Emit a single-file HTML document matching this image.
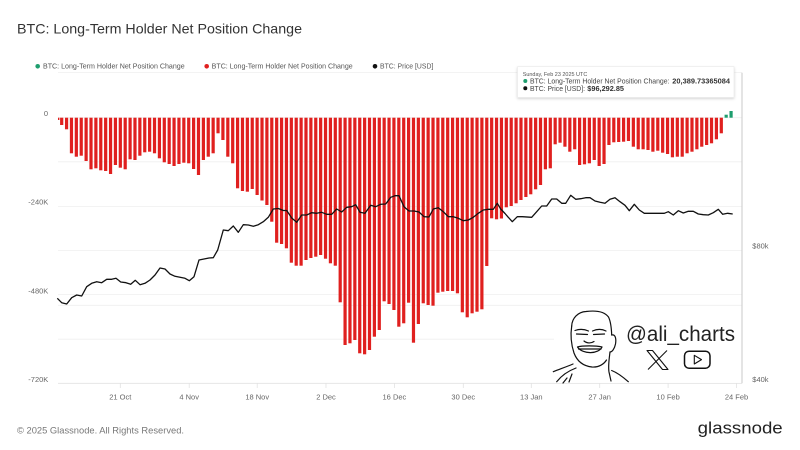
<!DOCTYPE html>
<html><head><meta charset="utf-8"><style>
html,body{margin:0;padding:0;background:#fff;}
svg{display:block;font-family:"Liberation Sans",Arial,sans-serif;}
</style></head><body>
<svg width="800" height="450" viewBox="0 0 800 450" xmlns="http://www.w3.org/2000/svg">
<defs>
<filter id="sh" x="-10%" y="-30%" width="120%" height="180%"><feDropShadow dx="0" dy="1.2" stdDeviation="1.2" flood-color="#000" flood-opacity="0.18"/></filter>
</defs>
<rect width="800" height="450" fill="#fff"/>
<text x="17" y="33.5" font-size="14" fill="#333" textLength="285" lengthAdjust="spacingAndGlyphs">BTC: Long-Term Holder Net Position Change</text>
<!-- legend -->
<circle cx="37.7" cy="66.3" r="2.3" fill="#1e9e6e"/>
<text x="43" y="68.7" font-size="7" fill="#555" textLength="141.7" lengthAdjust="spacingAndGlyphs">BTC: Long-Term Holder Net Position Change</text>
<circle cx="206.7" cy="66.3" r="2.3" fill="#e0201f"/>
<text x="211.7" y="68.7" font-size="7" fill="#555" textLength="141" lengthAdjust="spacingAndGlyphs">BTC: Long-Term Holder Net Position Change</text>
<circle cx="375" cy="66.3" r="2.3" fill="#111"/>
<text x="380" y="68.7" font-size="7" fill="#555" textLength="53.3" lengthAdjust="spacingAndGlyphs">BTC: Price [USD]</text>
<!-- gridlines -->
<g stroke="#efefef" stroke-width="0.8">
<line x1="58" y1="72.5" x2="742" y2="72.5"/>
<line x1="58" y1="117.7" x2="742" y2="117.7"/>
<line x1="58" y1="161.8" x2="742" y2="161.8"/>
<line x1="58" y1="206.5" x2="742" y2="206.5"/>
<line x1="58" y1="250.6" x2="742" y2="250.6"/>
<line x1="58" y1="294.6" x2="742" y2="294.6"/>
<line x1="58" y1="305.3" x2="742" y2="305.3"/>
<line x1="58" y1="339.2" x2="742" y2="339.2"/>
</g>
<line x1="58" y1="383.3" x2="742" y2="383.3" stroke="#e2e2e2" stroke-width="0.8"/>
<g stroke="#e2e2e2" stroke-width="0.8">
<line x1="120.3" y1="383.3" x2="120.3" y2="388"/><line x1="189.2" y1="383.3" x2="189.2" y2="388"/><line x1="257.2" y1="383.3" x2="257.2" y2="388"/><line x1="326" y1="383.3" x2="326" y2="388"/><line x1="394.4" y1="383.3" x2="394.4" y2="388"/><line x1="463.3" y1="383.3" x2="463.3" y2="388"/><line x1="531.3" y1="383.3" x2="531.3" y2="388"/><line x1="599.7" y1="383.3" x2="599.7" y2="388"/><line x1="668.1" y1="383.3" x2="668.1" y2="388"/><line x1="736.5" y1="383.3" x2="736.5" y2="388"/>
</g>
<line x1="742" y1="72.7" x2="742" y2="383.3" stroke="#c4c4c4" stroke-width="0.9"/>
<!-- y labels -->
<g font-size="7.5" fill="#666" text-anchor="end">
<text x="48" y="116">0</text>
<text x="48.3" y="204.7">-240K</text>
<text x="48.3" y="293.4">-480K</text>
<text x="48.3" y="382">-720K</text>
</g>
<g font-size="7.5" fill="#666">
<text x="752.3" y="248.7">$80k</text>
<text x="752.3" y="382">$40k</text>
</g>
<g font-size="7.5" fill="#666" text-anchor="middle">
<text x="120.3" y="399.5">21 Oct</text><text x="189.2" y="399.5">4 Nov</text><text x="257.2" y="399.5">18 Nov</text><text x="326" y="399.5">2 Dec</text><text x="394.4" y="399.5">16 Dec</text><text x="463.3" y="399.5">30 Dec</text><text x="531.3" y="399.5">13 Jan</text><text x="599.7" y="399.5">27 Jan</text><text x="668.1" y="399.5">10 Feb</text><text x="736.5" y="399.5">24 Feb</text>
</g>
<!-- bars -->
<g fill="#e0201f">
<rect x="58" y="117.7" width="1.4" height="2.3"/>
<rect x="60.09" y="117.7" width="3.2" height="7.3"/>
<rect x="64.97" y="117.7" width="3.2" height="11.6"/>
<rect x="69.86" y="117.7" width="3.2" height="35.6"/>
<rect x="74.74" y="117.7" width="3.2" height="39"/>
<rect x="79.63" y="117.7" width="3.2" height="38"/>
<rect x="84.52" y="117.7" width="3.2" height="43.3"/>
<rect x="89.40" y="117.7" width="3.2" height="51.6"/>
<rect x="94.29" y="117.7" width="3.2" height="50.6"/>
<rect x="99.17" y="117.7" width="3.2" height="52.6"/>
<rect x="104.06" y="117.7" width="3.2" height="53.3"/>
<rect x="108.95" y="117.7" width="3.2" height="56.3"/>
<rect x="113.83" y="117.7" width="3.2" height="47.3"/>
<rect x="118.72" y="117.7" width="3.2" height="50"/>
<rect x="123.60" y="117.7" width="3.2" height="51.6"/>
<rect x="128.49" y="117.7" width="3.2" height="41.6"/>
<rect x="133.38" y="117.7" width="3.2" height="42.3"/>
<rect x="138.26" y="117.7" width="3.2" height="38"/>
<rect x="143.15" y="117.7" width="3.2" height="34.6"/>
<rect x="148.03" y="117.7" width="3.2" height="34"/>
<rect x="152.92" y="117.7" width="3.2" height="35.6"/>
<rect x="157.81" y="117.7" width="3.2" height="40.6"/>
<rect x="162.69" y="117.7" width="3.2" height="44.6"/>
<rect x="167.58" y="117.7" width="3.2" height="46.3"/>
<rect x="172.46" y="117.7" width="3.2" height="48.3"/>
<rect x="177.35" y="117.7" width="3.2" height="46.3"/>
<rect x="182.24" y="117.7" width="3.2" height="45"/>
<rect x="187.12" y="117.7" width="3.2" height="45.6"/>
<rect x="192.01" y="117.7" width="3.2" height="51.3"/>
<rect x="196.89" y="117.7" width="3.2" height="57.3"/>
<rect x="201.78" y="117.7" width="3.2" height="42.3"/>
<rect x="206.67" y="117.7" width="3.2" height="39"/>
<rect x="211.55" y="117.7" width="3.2" height="35.6"/>
<rect x="216.44" y="117.7" width="3.2" height="15.6"/>
<rect x="221.32" y="117.7" width="3.2" height="22.3"/>
<rect x="226.21" y="117.7" width="3.2" height="39"/>
<rect x="231.10" y="117.7" width="3.2" height="45.6"/>
<rect x="235.98" y="117.7" width="3.2" height="70.6"/>
<rect x="240.87" y="117.7" width="3.2" height="73.3"/>
<rect x="245.75" y="117.7" width="3.2" height="74"/>
<rect x="250.64" y="117.7" width="3.2" height="71.3"/>
<rect x="255.53" y="117.7" width="3.2" height="77.3"/>
<rect x="260.41" y="117.7" width="3.2" height="82.8"/>
<rect x="265.30" y="117.7" width="3.2" height="87.3"/>
<rect x="270.18" y="117.7" width="3.2" height="104"/>
<rect x="275.07" y="117.7" width="3.2" height="125"/>
<rect x="279.96" y="117.7" width="3.2" height="126.3"/>
<rect x="284.84" y="117.7" width="3.2" height="130.6"/>
<rect x="289.73" y="117.7" width="3.2" height="145"/>
<rect x="294.61" y="117.7" width="3.2" height="148"/>
<rect x="299.50" y="117.7" width="3.2" height="148"/>
<rect x="304.39" y="117.7" width="3.2" height="142.3"/>
<rect x="309.27" y="117.7" width="3.2" height="140.3"/>
<rect x="314.16" y="117.7" width="3.2" height="139"/>
<rect x="319.04" y="117.7" width="3.2" height="137.3"/>
<rect x="323.93" y="117.7" width="3.2" height="141"/>
<rect x="328.82" y="117.7" width="3.2" height="145.6"/>
<rect x="333.70" y="117.7" width="3.2" height="148"/>
<rect x="338.59" y="117.7" width="3.2" height="184.6"/>
<rect x="343.47" y="117.7" width="3.2" height="227.3"/>
<rect x="348.36" y="117.7" width="3.2" height="225.6"/>
<rect x="353.25" y="117.7" width="3.2" height="222.3"/>
<rect x="358.13" y="117.7" width="3.2" height="235.6"/>
<rect x="363.02" y="117.7" width="3.2" height="236.6"/>
<rect x="367.90" y="117.7" width="3.2" height="232.3"/>
<rect x="372.79" y="117.7" width="3.2" height="219"/>
<rect x="377.68" y="117.7" width="3.2" height="212.3"/>
<rect x="382.56" y="117.7" width="3.2" height="183.6"/>
<rect x="387.45" y="117.7" width="3.2" height="186.3"/>
<rect x="392.33" y="117.7" width="3.2" height="192.3"/>
<rect x="397.22" y="117.7" width="3.2" height="209"/>
<rect x="402.11" y="117.7" width="3.2" height="205.6"/>
<rect x="406.99" y="117.7" width="3.2" height="185"/>
<rect x="411.88" y="117.7" width="3.2" height="225"/>
<rect x="416.76" y="117.7" width="3.2" height="206.3"/>
<rect x="421.65" y="117.7" width="3.2" height="185.6"/>
<rect x="426.54" y="117.7" width="3.2" height="187.3"/>
<rect x="431.42" y="117.7" width="3.2" height="188"/>
<rect x="436.31" y="117.7" width="3.2" height="175"/>
<rect x="441.19" y="117.7" width="3.2" height="174"/>
<rect x="446.08" y="117.7" width="3.2" height="173.3"/>
<rect x="450.97" y="117.7" width="3.2" height="173.3"/>
<rect x="455.85" y="117.7" width="3.2" height="175.6"/>
<rect x="460.74" y="117.7" width="3.2" height="194.6"/>
<rect x="465.62" y="117.7" width="3.2" height="199.6"/>
<rect x="470.51" y="117.7" width="3.2" height="195.6"/>
<rect x="475.40" y="117.7" width="3.2" height="194"/>
<rect x="480.28" y="117.7" width="3.2" height="191.6"/>
<rect x="485.17" y="117.7" width="3.2" height="148.3"/>
<rect x="490.05" y="117.7" width="3.2" height="100.6"/>
<rect x="494.94" y="117.7" width="3.2" height="101.6"/>
<rect x="499.83" y="117.7" width="3.2" height="100.8"/>
<rect x="504.71" y="117.7" width="3.2" height="89.6"/>
<rect x="509.60" y="117.7" width="3.2" height="88.3"/>
<rect x="514.48" y="117.7" width="3.2" height="85.6"/>
<rect x="519.37" y="117.7" width="3.2" height="82.3"/>
<rect x="524.26" y="117.7" width="3.2" height="79.3"/>
<rect x="529.14" y="117.7" width="3.2" height="76.6"/>
<rect x="534.03" y="117.7" width="3.2" height="71.6"/>
<rect x="538.91" y="117.7" width="3.2" height="67.3"/>
<rect x="543.80" y="117.7" width="3.2" height="51.6"/>
<rect x="548.69" y="117.7" width="3.2" height="50.6"/>
<rect x="553.57" y="117.7" width="3.2" height="26.6"/>
<rect x="558.46" y="117.7" width="3.2" height="25"/>
<rect x="563.34" y="117.7" width="3.2" height="29"/>
<rect x="568.23" y="117.7" width="3.2" height="34"/>
<rect x="573.12" y="117.7" width="3.2" height="31.6"/>
<rect x="578.00" y="117.7" width="3.2" height="47.3"/>
<rect x="582.89" y="117.7" width="3.2" height="46.6"/>
<rect x="587.77" y="117.7" width="3.2" height="45.6"/>
<rect x="592.66" y="117.7" width="3.2" height="42.3"/>
<rect x="597.55" y="117.7" width="3.2" height="48.3"/>
<rect x="602.43" y="117.7" width="3.2" height="46.3"/>
<rect x="607.32" y="117.7" width="3.2" height="27.3"/>
<rect x="612.20" y="117.7" width="3.2" height="24.6"/>
<rect x="617.09" y="117.7" width="3.2" height="24.3"/>
<rect x="621.98" y="117.7" width="3.2" height="24"/>
<rect x="626.86" y="117.7" width="3.2" height="23.3"/>
<rect x="631.75" y="117.7" width="3.2" height="29"/>
<rect x="636.63" y="117.7" width="3.2" height="31.6"/>
<rect x="641.52" y="117.7" width="3.2" height="31.6"/>
<rect x="646.41" y="117.7" width="3.2" height="32.3"/>
<rect x="651.29" y="117.7" width="3.2" height="34"/>
<rect x="656.18" y="117.7" width="3.2" height="33"/>
<rect x="661.06" y="117.7" width="3.2" height="35"/>
<rect x="665.95" y="117.7" width="3.2" height="36.3"/>
<rect x="670.84" y="117.7" width="3.2" height="39.6"/>
<rect x="675.72" y="117.7" width="3.2" height="39"/>
<rect x="680.61" y="117.7" width="3.2" height="39"/>
<rect x="685.49" y="117.7" width="3.2" height="35.6"/>
<rect x="690.38" y="117.7" width="3.2" height="34"/>
<rect x="695.27" y="117.7" width="3.2" height="31.6"/>
<rect x="700.15" y="117.7" width="3.2" height="29"/>
<rect x="705.04" y="117.7" width="3.2" height="27.3"/>
<rect x="709.92" y="117.7" width="3.2" height="25.6"/>
<rect x="714.81" y="117.7" width="3.2" height="21.6"/>
<rect x="719.70" y="117.7" width="3.2" height="15.6"/>
</g>
<g fill="#1e9e6e">
<rect x="724.58" y="114.7" width="3.2" height="3"/>
<rect x="729.47" y="111" width="3.2" height="6.7"/>
</g>
<!-- price line -->
<polyline fill="none" stroke="#111" stroke-width="1.3" stroke-linejoin="round" points="57.3,298.3 61.7,302.7 66.7,304 71.7,297.7 76.7,295 81.7,296 86.7,286.7 91.7,283.3 96.7,281.7 101.7,282.7 106.7,279.3 111.7,279.3 116,278.3 120.7,282 126,282.7 130.7,284.3 135.3,280.3 140,284.7 145,283.3 150,280 155,275 160,268 165,269 170,274 175,276.3 180,277.3 185,278.3 189.3,280.7 194,276.7 199,260 204,259 209,258 213.3,257.7 217.7,250 223.3,230 228.3,230.7 233.3,226 238.3,232.3 243.3,224.7 248.3,225 253.3,226.3 258.3,224.7 263.3,221.7 268.3,217.3 273.3,209 278.3,208.5 283.3,210.5 286.7,210.5 291.7,218 296.7,222.3 301.7,215 306.7,215 311.7,212.7 316.7,213.3 321.7,212.3 326.7,214.3 331.7,214.3 336.7,209 341.7,212 346.7,207.3 351.7,206.7 355.7,204.7 360,212.3 365,213.3 370.7,205.3 375.7,206.7 380.7,204.3 385.7,204 390.7,197.3 395,195.7 399,195.7 404,206.7 409,211 414,211 419,212 424,216.7 429,217 433.3,209 438.3,207.7 443.3,211.7 448.3,216.7 453.3,216.7 458.3,218.3 463.3,220.7 468.3,220 473.3,217.3 478.3,213.3 483.3,210 488.3,209.3 493.3,209.3 497.3,203.3 500.7,209 505,213.5 508.3,217.3 512.3,221.7 517.3,216.7 522.3,216.7 531.7,217.3 536.7,211.7 541.7,206 546.7,206 551.7,199 556.7,199 561.7,203.3 565.7,203.3 570.7,195.3 575.7,199.3 580.7,198.7 585.7,197.7 590,197.7 595,201 600,202.3 605,203.3 610,199.3 615,197.7 620,201.7 625,205.3 629.3,210.7 634.3,204.3 639.3,210 644.3,213.3 649.3,213.3 654.3,213.3 659.3,213.3 664.3,213.3 668.3,211.7 673.3,215 678.3,210.7 683.3,213 688.3,211.3 693.3,211.3 698.3,214 703.3,214.7 708.3,215 713.3,212.7 718.3,209.3 722.7,214.3 727.7,213.3 732.7,214"/>
<!-- watermark -->
<rect x="554" y="306.2" width="187.5" height="76.6" fill="#fff"/>
<g fill="none" stroke="#111" stroke-width="1.2" stroke-linecap="round" stroke-linejoin="round">
<path d="M571.7,326 C572,318 578,312 586,311.5 C594,310.5 604,311 608.5,317 C611,322 611.5,330 611.7,335"/>
<path d="M571.7,326 C570.5,334 571,344 574,353 C577,361 583,366 592,367 C599,367.5 604,364 606.5,360"/>
<path d="M611.7,335 C615,334 616.5,338 615.5,344 C614.5,349 612,352 610,352"/>
<path d="M610,352 C609,360 608,366 609,372 L611,381"/>
<path d="M553.3,371.7 C560,369 566,367 573,364"/>
<path d="M556.7,381.7 C562,375 568,371 576,368"/>
<path d="M611.7,370.5 C618,373 623,377 628.3,381.7"/>
<path d="M575,330.5 C579,329 584,329 588.5,331"/>
<path d="M592.5,331 C597,329 602,329 606,331"/>
<path d="M576.5,334 L587.5,334.5 M593.5,334.5 L604.5,334"/>
<path d="M584,341 C587,343.5 591,343.5 594,341.5"/>
<path d="M577.5,347 C582,345.5 596,345.5 602,347 C599,354 583,355 577.5,347 Z"/>
<path d="M578.5,349 L601,349"/>
<path d="M567,378 L563,383 M572,374 L569,382"/>
</g>
<text x="626" y="341" font-size="21" fill="#222" textLength="109" lengthAdjust="spacingAndGlyphs">@ali_charts</text>
<g fill="none" stroke="#111" stroke-width="1.1" stroke-linejoin="round">
<path d="M647,350.5 L652.5,350.5 L668,369.5 L662.5,369.5 Z"/>
<path d="M667,350.5 L648,369.5"/>
<rect x="684.5" y="351.2" width="25.5" height="17" rx="4.5" stroke-width="1.5"/>
<path d="M694.3,355.3 L694.3,364 L701.5,359.6 Z"/>
</g>
<!-- tooltip -->
<rect x="517.5" y="66.7" width="216.5" height="30.6" fill="#fff" stroke="#e8e8e8" stroke-width="0.6" filter="url(#sh)"/>
<text x="522.7" y="76.2" font-size="5.6" fill="#555" textLength="64.6" lengthAdjust="spacingAndGlyphs">Sunday, Feb 23 2025 UTC</text>
<circle cx="525.3" cy="81" r="2" fill="#1e9e6e"/>
<text x="530" y="83.5" font-size="7" fill="#444" textLength="139.5" lengthAdjust="spacingAndGlyphs">BTC: Long-Term Holder Net Position Change:</text>
<text x="672.3" y="83.5" font-size="7" font-weight="bold" fill="#333" textLength="57.7" lengthAdjust="spacingAndGlyphs">20,389.73365084</text>
<circle cx="525.3" cy="88.3" r="2" fill="#111"/>
<text x="530" y="90.8" font-size="7" fill="#444" textLength="55" lengthAdjust="spacingAndGlyphs">BTC: Price [USD]:</text>
<text x="587.3" y="90.8" font-size="7" font-weight="bold" fill="#333" textLength="36.7" lengthAdjust="spacingAndGlyphs">$96,292.85</text>
<!-- footer -->
<text x="17" y="433.5" font-size="9.5" fill="#777" textLength="167" lengthAdjust="spacingAndGlyphs">© 2025 Glassnode. All Rights Reserved.</text>
<text x="697.7" y="433.5" font-size="17" fill="#222" textLength="85" lengthAdjust="spacingAndGlyphs">glassnode</text>
</svg>
</body></html>
